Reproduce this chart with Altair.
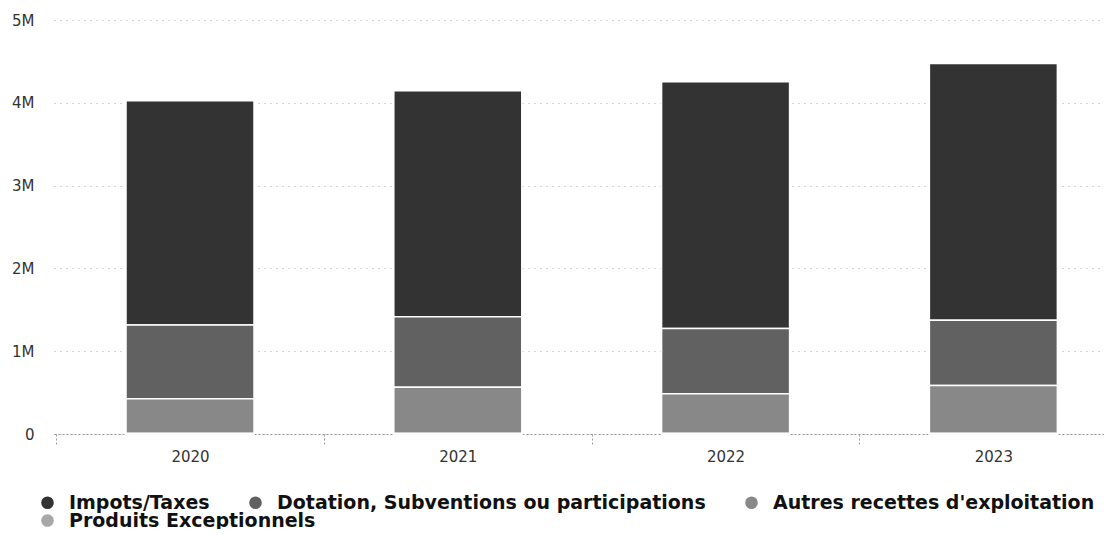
import altair as alt
import pandas as pd

years = ["2020", "2021", "2022", "2023"]
series = [
    "Impots/Taxes",
    "Dotation, Subventions ou participations",
    "Autres recettes d'exploitation",
    "Produits Exceptionnels",
]
impots = [2710000, 2730000, 2980000, 3100000]
dotation = [890000, 850000, 790000, 790000]
autres = [420000, 560000, 480000, 580000]
produits = [5000, 5000, 5000, 5000]
stack_rank = [3, 2, 1, 0]
colors = ["#333333", "#616161", "#888888", "#a8a8a8"]

rows = []
for s, vals, r in zip(series, [impots, dotation, autres, produits], stack_rank):
    for y, v in zip(years, vals):
        rows.append({"year": y, "series": s, "value": v, "rank": r})
df = pd.DataFrame(rows)

x_enc = alt.X(
    "year:N",
    sort=years,
    scale=alt.Scale(paddingInner=0.522, paddingOuter=0.2215, align=0.607),
    axis=alt.Axis(
        title=None, labelAngle=0, labelFontSize=15, labelColor="#333333",
        labelFont="DejaVu Sans", domainColor="#999999", domainDash=[2, 2],
        tickColor="#999999", tickDash=[2, 2], tickOffset=-134, labelOffset=134,
        tickSize=11, labelPadding=4, grid=False,
    ),
)
y_enc = alt.Y(
    "value:Q",
    stack="zero",
    scale=alt.Scale(domain=[0, 5000000], nice=False),
    axis=alt.Axis(
        title=None, values=[0, 1000000, 2000000, 3000000, 4000000, 5000000],
        labelExpr="datum.value == 0 ? '0' : format(datum.value, '~s')",
        domain=False, ticks=False, labelPadding=20, labelFontSize=15,
        labelFont="DejaVu Sans", labelColor="#333333",
        gridColor="#aaaaaa", gridDash=[1, 5], gridWidth=1,
    ),
)

legend_style = dict(
    title=None, orient="none", direction="horizontal", padding=0,
    columnPadding=36, symbolType="circle", symbolSize=160, symbolStrokeWidth=0,
    labelFont="DejaVu Sans", labelFontWeight="bold", labelFontSize=19,
    labelColor="#111111", labelOffset=12, labelLimit=0,
)

main = alt.Chart(df).mark_bar(stroke="white", strokeWidth=1.5).encode(
    x=x_enc,
    y=y_enc,
    color=alt.Color(
        "series:N",
        scale=alt.Scale(domain=series, range=colors),
        legend=alt.Legend(values=series[:3], legendX=-16, legendY=473, **legend_style),
    ),
    order=alt.Order("rank:Q", sort="ascending"),
)

extra = alt.Chart(df).transform_filter(
    alt.datum.series == series[3]
).mark_bar(stroke="white", strokeWidth=1.5).encode(
    x=x_enc,
    y=y_enc,
    fill=alt.Fill(
        "series:N",
        scale=alt.Scale(domain=series[3:], range=colors[3:]),
        legend=alt.Legend(legendX=-16, legendY=491, **legend_style),
    ),
)

chart = alt.layer(main, extra).properties(
    width=1050,
    height=414,
    padding={"left": 46, "top": 12, "right": 0, "bottom": 95},
    autosize=alt.AutoSizeParams(type="none"),
).configure_view(stroke=None)

chart.save("out.html", embed_options={"renderer": "svg", "actions": False})
